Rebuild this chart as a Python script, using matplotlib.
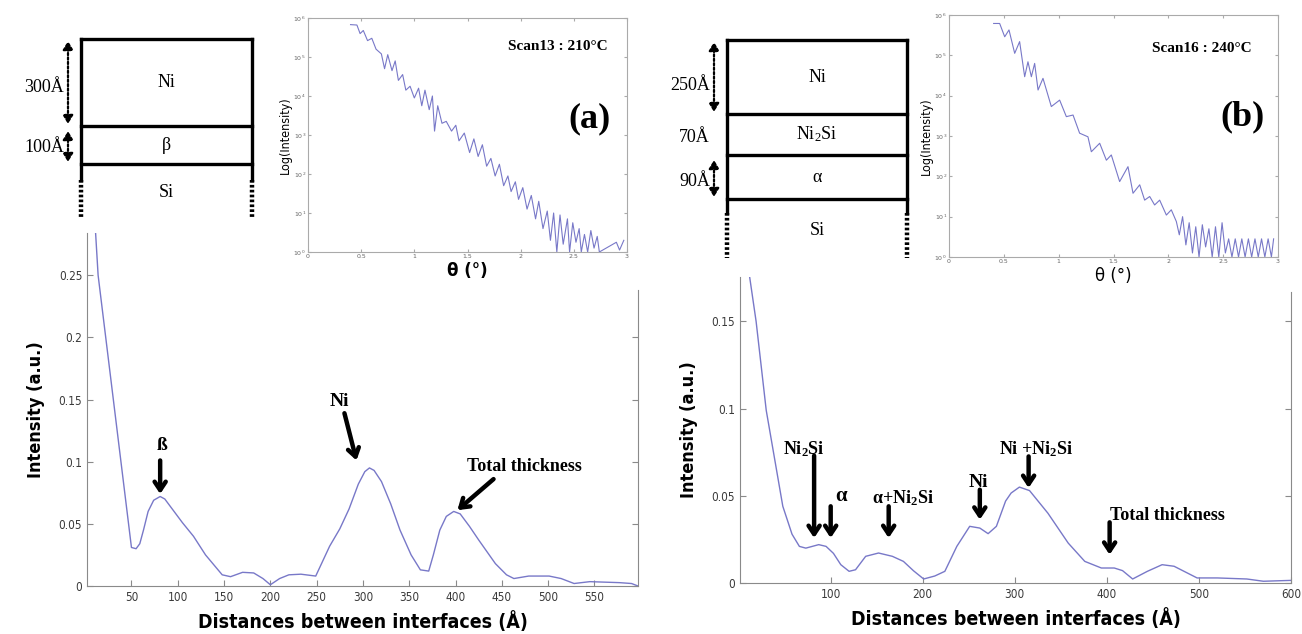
import matplotlib
matplotlib.use('Agg')
import matplotlib.pyplot as plt
from matplotlib.ticker import LogLocator, NullLocator

W, H = 1302, 634

# ---- distance spectra (main panels) ----
dist_a = [10, 14, 50, 55, 59, 63, 68, 74, 81, 86, 95, 105, 117, 130, 148, 157, 170, 182, 192,
          200, 210, 220, 233, 249, 264, 275, 285, 295, 302, 307, 312, 320, 330, 340, 352, 362,
          371, 376, 383, 390, 398, 405, 415, 425, 443, 455, 463, 479, 501, 514, 528, 545, 577,
          590, 597]
int_a = [0.300, 0.250, 0.031, 0.030, 0.034, 0.045, 0.060, 0.069, 0.072, 0.070, 0.061, 0.051,
         0.040, 0.025, 0.009, 0.0075, 0.011, 0.0105, 0.006, 0.001, 0.006, 0.009, 0.0095, 0.008,
         0.032, 0.046, 0.062, 0.082, 0.092, 0.095, 0.093, 0.084, 0.066, 0.045, 0.025, 0.013,
         0.012, 0.025, 0.045, 0.056, 0.060, 0.058, 0.048, 0.037, 0.018, 0.009, 0.006, 0.008,
         0.008, 0.006, 0.002, 0.0035, 0.0027, 0.002, 0.000]

dist_b = [8, 19, 30, 48, 58, 66, 73, 80, 87, 95, 103, 111, 120, 127, 138, 152, 167, 179, 190,
          201, 213, 224, 237, 251, 262, 271, 280, 290, 296, 305, 316, 336, 358, 376, 394, 408,
          417, 428, 444, 460, 473, 498, 520, 552, 570, 600]
int_b = [0.190, 0.150, 0.099, 0.044, 0.028, 0.021, 0.020, 0.021, 0.022, 0.021, 0.017, 0.0105,
         0.0067, 0.0076, 0.0153, 0.0172, 0.0153, 0.0124, 0.007, 0.0023, 0.004, 0.0067, 0.021,
         0.0325, 0.0315, 0.0283, 0.0325, 0.047, 0.0516, 0.055, 0.053, 0.040, 0.0229, 0.0124,
         0.0086, 0.0086, 0.0071, 0.0023, 0.0067, 0.0105, 0.0096, 0.0029, 0.0029, 0.0023,
         0.0010, 0.0015]

# ---- reflectivity scans (insets), log10 of intensity ----
theta_a = [0.40, 0.46, 0.49, 0.52, 0.56, 0.60, 0.64, 0.69, 0.72, 0.75, 0.79, 0.82, 0.85, 0.89,
           0.92, 0.96, 1.00, 1.04, 1.07, 1.10, 1.14, 1.17, 1.19, 1.22, 1.26, 1.30, 1.35, 1.39,
           1.42, 1.47, 1.52, 1.56, 1.60, 1.64, 1.68, 1.72, 1.76, 1.80, 1.84, 1.88, 1.91, 1.95,
           1.98, 2.02, 2.06, 2.10, 2.14, 2.17, 2.21, 2.25, 2.28, 2.31, 2.34, 2.37, 2.40, 2.44,
           2.46, 2.49, 2.52, 2.55, 2.57, 2.60, 2.63, 2.66, 2.69, 2.72, 2.74, 2.90, 2.93, 2.97]
logi_a = [5.83, 5.82, 5.60, 5.68, 5.42, 5.48, 5.20, 5.08, 4.70, 5.06, 4.65, 4.90, 4.40, 4.55,
          4.15, 4.25, 3.95, 4.20, 3.75, 4.15, 3.65, 4.00, 3.10, 3.75, 3.30, 3.35, 3.10, 3.25,
          2.85, 3.05, 2.55, 2.90, 2.45, 2.75, 2.20, 2.40, 1.95, 2.25, 1.70, 1.95, 1.55, 1.80,
          1.35, 1.65, 1.10, 1.45, 0.85, 1.30, 0.60, 1.05, 0.30, 1.00, 0.00, 0.95, 0.20, 0.85,
          0.00, 0.75, 0.25, 0.60, 0.00, 0.45, 0.00, 0.55, 0.10, 0.40, 0.00, 0.25, 0.05, 0.30]

theta_b = [0.407, 0.462, 0.508, 0.547, 0.599, 0.644, 0.690, 0.720, 0.751, 0.781, 0.812, 0.857,
           0.933, 1.009, 1.070, 1.131, 1.191, 1.267, 1.298, 1.374, 1.435, 1.480, 1.556, 1.632,
           1.678, 1.739, 1.784, 1.830, 1.875, 1.921, 1.982, 2.027, 2.073, 2.10, 2.13, 2.16,
           2.19, 2.22, 2.25, 2.28, 2.31, 2.34, 2.37, 2.40, 2.43, 2.46, 2.49, 2.52, 2.55, 2.58,
           2.61, 2.64, 2.67, 2.70, 2.73, 2.76, 2.79, 2.82, 2.85, 2.88, 2.91, 2.94, 2.96]
logi_b = [5.79, 5.79, 5.46, 5.63, 5.05, 5.34, 4.47, 4.84, 4.47, 4.80, 4.14, 4.43, 3.73, 3.89,
          3.48, 3.52, 3.07, 2.98, 2.61, 2.82, 2.40, 2.53, 1.87, 2.24, 1.58, 1.79, 1.41, 1.50,
          1.29, 1.41, 1.04, 1.17, 0.88, 0.55, 1.00, 0.30, 0.85, 0.10, 0.75, 0.00, 0.80, 0.25,
          0.70, 0.00, 0.75, 0.00, 0.85, 0.10, 0.45, 0.00, 0.45, 0.00, 0.45, 0.00, 0.45, 0.00,
          0.45, 0.00, 0.45, 0.00, 0.45, 0.00, 0.45]

# ---- layer stacks ----
layers_a = ['Ni', 'β', 'Si']
thick_a = ['300Å', '100Å']
layers_b = ['Ni', 'Ni$_2$Si', 'α', 'Si']
thick_b = ['250Å', '70Å', '90Å']

plt.rcParams['mathtext.default'] = 'regular'
SANS = ['Liberation Sans Narrow', 'DejaVu Sans']
SERIF = ['Liberation Serif', 'DejaVu Serif']
CURVE = '#7878c8'
GREY = '#8a8a8a'


def box(x0, y0, x1, y1):
    # pixel box (top-left origin) -> figure fraction
    return [x0 / W, 1 - y1 / H, (x1 - x0) / W, (y1 - y0) / H]


def style_main(ax, right_top):
    ax.spines['top'].set_visible(False)
    for s in ['left', 'bottom', 'right']:
        ax.spines[s].set_color(GREY)
    ax.spines['right'].set_bounds(0, right_top)
    ax.tick_params(direction='in', right=True, length=4, color=GREY,
                   labelsize=8.5, labelcolor='#3a3a3a')
    for lab in ax.get_xticklabels() + ax.get_yticklabels():
        lab.set_family(SANS)
        lab.set_stretch('condensed')
    for t in ax.yaxis.get_major_ticks():
        if t.get_loc() > right_top:
            t.tick2line.set_visible(False)
    ax.set_xlabel('Distances between interfaces (Å)', family=SANS, weight='bold',
                  stretch='condensed', fontsize=14, labelpad=5)
    ax.set_ylabel('Intensity (a.u.)', family=SANS, weight='bold', stretch='condensed',
                  fontsize=13, labelpad=10)


def style_inset(ax):
    ax.set_facecolor('white')
    for s in ax.spines.values():
        s.set_color('#aaaaaa')
        s.set_linewidth(0.8)
    ax.set_yscale('log')
    ax.set_xlim(0, 3)
    ax.set_ylim(1, 1e6)
    ax.set_xticks([0, 0.5, 1, 1.5, 2, 2.5, 3])
    ax.set_xticklabels(['0', '0.5', '1', '1.5', '2', '2.5', '3'])
    ax.yaxis.set_major_locator(LogLocator(base=10, numticks=10))
    ax.yaxis.set_minor_locator(NullLocator())
    ax.tick_params(direction='in', top=True, right=True, length=2, color='#aaaaaa',
                   labelsize=4.5, labelcolor='#666666', pad=1.5)
    ax.set_ylabel('Log(Intensity)', family=SANS, stretch='condensed', fontsize=9, labelpad=1)


fig = plt.figure(figsize=(W / 100, H / 100), dpi=100)

# ---------------- panel (a) ----------------
axA = fig.add_axes(box(87, 233, 638, 586))
axA.plot(dist_a, int_a, color=CURVE, lw=1.0)
axA.set_xlim(2, 597)
axA.set_ylim(0, 0.284)
axA.set_xticks(range(50, 551, 50))
axA.set_yticks([0, 0.05, 0.1, 0.15, 0.2, 0.25])
axA.set_yticklabels(['0', '0.05', '0.1', '0.15', '0.2', '0.25'])
style_main(axA, 0.238)

arrow = dict(arrowstyle='->,head_length=0.6,head_width=0.4', lw=3.2, color='black',
             shrinkA=0, shrinkB=0)
tfont = dict(family=SERIF, weight='bold', ha='center', va='bottom')
axA.text(83, 0.106, 'ß', fontsize=14, **tfont)
axA.annotate('', xy=(81, 0.074), xytext=(81, 0.101), arrowprops=arrow)
axA.text(275, 0.142, 'Ni', fontsize=14, **tfont)
axA.annotate('', xy=(293, 0.101), xytext=(280, 0.139), arrowprops=arrow)
axA.text(474, 0.089, 'Total thickness', fontsize=13, **tfont)
axA.annotate('', xy=(402, 0.061), xytext=(441, 0.086), arrowprops=arrow)

inA = fig.add_axes(box(308, 18, 627, 252))
inA.plot(theta_a, [10 ** v for v in logi_a], color=CURVE, lw=0.8)
style_inset(inA)
inA.set_xlabel('θ (°)', family=SANS, weight='bold', fontsize=12, labelpad=2)
inA.text(0.94, 0.88, 'Scan13 : 210°C', transform=inA.transAxes, family=SERIF,
         weight='bold', fontsize=11, ha='right', va='center')
inA.text(0.95, 0.57, '(a)', transform=inA.transAxes, family=SERIF, weight='bold',
         fontsize=26, ha='right', va='center')

# ---------------- panel (b) ----------------
axB = fig.add_axes(box(740, 277, 1291, 583))
axB.plot(dist_b, int_b, color=CURVE, lw=1.0)
axB.set_xlim(1.5, 600)
axB.set_ylim(0, 0.1755)
axB.set_xticks(range(100, 601, 100))
axB.set_yticks([0, 0.05, 0.1, 0.15])
axB.set_yticklabels(['0', '0.05', '0.1', '0.15'])
style_main(axB, 0.167)

axB.text(71, 0.071, 'Ni$_2$Si', fontsize=13, **tfont)
axB.annotate('', xy=(82, 0.0258), xytext=(82, 0.073), arrowprops=arrow)
axB.text(111, 0.044, 'α', fontsize=15, **tfont)
axB.annotate('', xy=(100, 0.0258), xytext=(100, 0.044), arrowprops=arrow)
axB.text(179, 0.043, 'α+Ni$_2$Si', fontsize=13, **tfont)
axB.annotate('', xy=(163, 0.0258), xytext=(163, 0.044), arrowprops=arrow)
axB.text(260, 0.053, 'Ni', fontsize=14, **tfont)
axB.annotate('', xy=(262, 0.0363), xytext=(262, 0.0535), arrowprops=arrow)
axB.text(323, 0.071, 'Ni +Ni$_2$Si', fontsize=13, **tfont)
axB.annotate('', xy=(315, 0.0545), xytext=(315, 0.0726), arrowprops=arrow)
axB.text(466, 0.034, 'Total thickness', fontsize=13, **tfont)
axB.annotate('', xy=(403, 0.0162), xytext=(403, 0.0348), arrowprops=arrow)

inB = fig.add_axes(box(949, 15, 1278, 257))
inB.plot(theta_b, [10 ** v for v in logi_b], color=CURVE, lw=0.8)
style_inset(inB)
inB.set_xlabel('θ (°)', family=SANS, fontsize=12, labelpad=2)
inB.text(0.92, 0.86, 'Scan16 : 240°C', transform=inB.transAxes, family=SERIF,
         weight='bold', fontsize=11, ha='right', va='center')
inB.text(0.96, 0.58, '(b)', transform=inB.transAxes, family=SERIF, weight='bold',
         fontsize=26, ha='right', va='center')

# ---------------- layer diagrams (pixel overlay) ----------------
ov = fig.add_axes([0, 0, 1, 1])
ov.set_xlim(0, W)
ov.set_ylim(H, 0)
ov.axis('off')
ov.set_zorder(10)


def stack(x0, x1, bounds, solid_end, dash_end, names, thicks, thick_y, arrows, ax_x):
    lw = 2.4
    for y in bounds:
        ov.plot([x0, x1], [y, y], color='black', lw=lw, solid_capstyle='projecting')
    for x in (x0, x1):
        ov.plot([x, x], [bounds[0], solid_end], color='black', lw=lw)
        ov.plot([x, x], [solid_end, dash_end], color='black', lw=3.2, ls=(0, (0.6, 0.5)))
    xc = (x0 + x1) / 2
    centres = [(bounds[i] + bounds[i + 1]) / 2 for i in range(len(bounds) - 1)]
    centres.append((bounds[-1] + dash_end) / 2 + 2)
    for name, yc in zip(names, centres):
        ov.text(xc, yc, name, family=SERIF, fontsize=13, ha='center', va='center')
    for lab, yc in zip(thicks, thick_y):
        ov.text(ax_x - 4, yc, lab, family=SERIF, fontsize=13, ha='right', va='center')
    for ya, yb in arrows:
        ov.annotate('', xy=(ax_x, ya), xytext=(ax_x, yb),
                    arrowprops=dict(arrowstyle='<|-|>,head_length=0.5,head_width=0.3',
                                    lw=1.6, ls=(0, (1, 1)), color='black',
                                    shrinkA=0, shrinkB=0))


stack(81, 252, [39, 126, 164], 180, 217, layers_a, thick_a, [88, 148],
      [(41, 124), (131, 162)], 68)
stack(727, 907, [40, 114, 155, 199], 213, 258, layers_b, thick_b, [85, 137, 182],
      [(42, 112), (160, 197)], 714)

fig.savefig('out.png', dpi=100, facecolor='white')
